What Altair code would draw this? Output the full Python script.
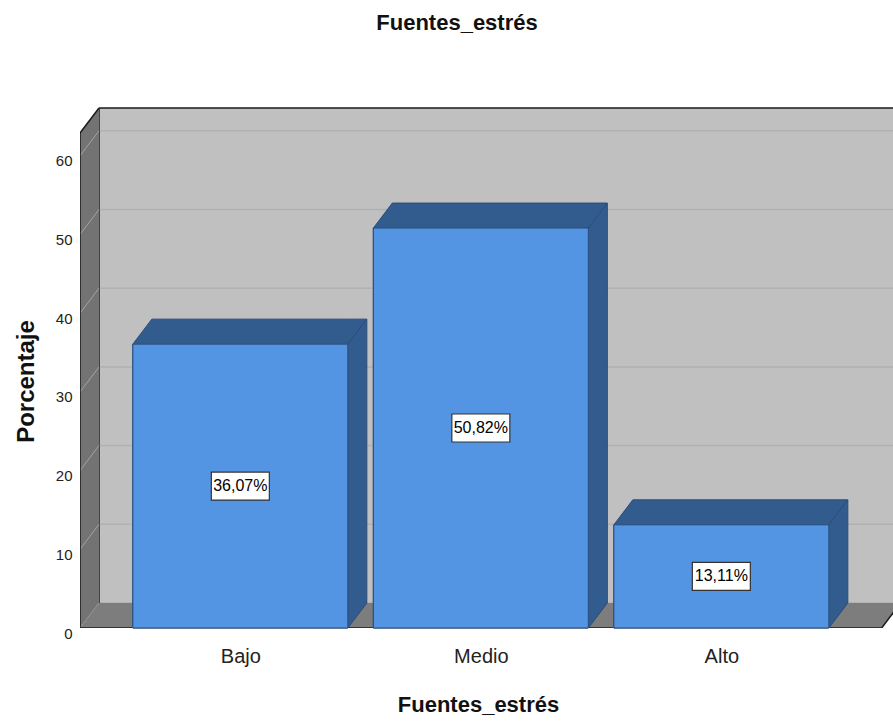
import json
import altair as alt
import pandas as pd

# ---- data -------------------------------------------------------------
categories = ["Bajo", "Medio", "Alto"]
percentages = [36.07, 50.82, 13.11]
y_ticks = [0, 10, 20, 30, 40, 50, 60]
chart_title = "Fuentes_estrés"
y_title = "Porcentaje"

# ---- geometry of the 3-D box (x in category slots, y in percent) ------
PLOT_W, PLOT_H = 813, 528
PX_PER_SLOT = 240.5
PX_PER_PCT = 7.87
X_LEFT = 1 / 3            # front-left corner of the side wall
X_RIGHT = 11 / 3          # front-right corner of the floor
DEPTH_X = 19 / PX_PER_SLOT
DEPTH_Y = 25 / PX_PER_PCT
WALL_TOP = 62.9
HALF_BAR = 0.447
X_DOMAIN = [X_LEFT, X_LEFT + PLOT_W / PX_PER_SLOT]
Y_DOMAIN = [0, PLOT_H / PX_PER_PCT]
X_END = X_DOMAIN[1] + 0.3

FONT = "Liberation Sans"
BAR_FRONT = "#5394E3"
BAR_DARK = "#335C8E"
BAR_EDGE = "#2B4C78"
WALL_BACK = "#C0C0C0"
WALL_SIDE = "#737373"
FLOOR = "#7D7D7D"

XS = alt.Scale(domain=X_DOMAIN, nice=False, zero=False)
YS = alt.Scale(domain=Y_DOMAIN, nice=False, zero=False)

x_label_expr = f"{json.dumps(categories)}[datum.value - 1]"
X_AXIS = alt.Axis(
    values=[1, 2, 3], labelExpr=x_label_expr, title="Fuentes_estrés",
    ticks=False, domain=False, grid=False, labelPadding=34,
    labelBaseline="alphabetic", labelFont=FONT, labelFontSize=20,
    labelColor="#222222", titleFont=FONT, titleFontSize=22,
    titleFontWeight="bold", titleColor="#111111", titleX=398, titleY=83,
    titleBaseline="alphabetic", titleAlign="center", titleAnchor="middle")
Y_AXIS = alt.Axis(
    values=y_ticks, ticks=False, domain=False, grid=False, labelPadding=8,
    labelFont=FONT, labelFontSize=15, labelColor="#222222",
    labelBaseline="middle", labelOffset=5, title=y_title, titleFont=FONT,
    titleFontSize=24, titleFontWeight="bold", titleColor="#111111",
    titleAngle=270, titleX=-47, titleY=281, titleAlign="center",
    titleBaseline="alphabetic", titleAnchor="middle")


def X(field):
    return alt.X(field, type="quantitative", scale=XS, axis=X_AXIS)


def Y(field):
    return alt.Y(field, type="quantitative", scale=YS, axis=Y_AXIS, stack=None)


def X2(field):
    return alt.X2(field)


def Y2(field):
    return alt.Y2(field)


def segments(rows):
    return pd.DataFrame(rows, columns=["x", "y", "x2", "y2"])


def polygon_area(frame, **mark):
    # a filled shape bounded by straight edges, given as lower/upper
    # outlines sampled at its corner x positions
    return alt.Chart(frame).mark_area(orient="vertical", interpolate="linear", **mark).encode(
        x=X("x"), y=Y("lo"), y2=Y2("hi"))


# ---- back wall ----------------------------------------------------------
back_wall = alt.Chart(pd.DataFrame({
    "x": [X_LEFT + DEPTH_X], "x2": [X_END],
    "y": [DEPTH_Y], "y2": [WALL_TOP + DEPTH_Y],
})).mark_rect(fill=WALL_BACK, clip=True).encode(
    x=X("x"), x2=X2("x2"), y=Y("y"), y2=Y2("y2"))

back_grid = alt.Chart(segments(
    [[X_LEFT + DEPTH_X, t + DEPTH_Y, X_END, t + DEPTH_Y] for t in y_ticks]
)).mark_rule(color="#B1B1B1", strokeWidth=1.5, clip=True).encode(
    x=X("x"), x2=X2("x2"), y=Y("y"), y2=Y2("y2"))

back_edges = alt.Chart(segments([
    [X_LEFT + DEPTH_X, WALL_TOP + DEPTH_Y, X_END, WALL_TOP + DEPTH_Y],
    [X_LEFT + DEPTH_X, DEPTH_Y, X_LEFT + DEPTH_X, WALL_TOP + DEPTH_Y],
])).mark_rule(color="#1A1A1A", strokeWidth=1.5, clip=True).encode(
    x=X("x"), x2=X2("x2"), y=Y("y"), y2=Y2("y2"))

# ---- left side wall -------------------------------------------------------
side_wall = polygon_area(pd.DataFrame({
    "x": [X_LEFT, X_LEFT + DEPTH_X],
    "lo": [0, DEPTH_Y],
    "hi": [WALL_TOP, WALL_TOP + DEPTH_Y],
}), fill=WALL_SIDE, clip=True)

side_grid = alt.Chart(segments(
    [[X_LEFT, t, X_LEFT + DEPTH_X, t + DEPTH_Y] for t in y_ticks]
)).mark_rule(color="#A3A3A3", strokeWidth=1, clip=True).encode(
    x=X("x"), x2=X2("x2"), y=Y("y"), y2=Y2("y2"))

side_edges = alt.Chart(segments([
    [X_LEFT, 0, X_LEFT, WALL_TOP],
    [X_LEFT, WALL_TOP, X_LEFT + DEPTH_X, WALL_TOP + DEPTH_Y],
])).mark_rule(color="#1A1A1A", strokeWidth=1.5, clip=True).encode(
    x=X("x"), x2=X2("x2"), y=Y("y"), y2=Y2("y2"))

# ---- floor ----------------------------------------------------------------
floor = polygon_area(pd.DataFrame({
    "x": [X_LEFT, X_LEFT + DEPTH_X, X_RIGHT, X_RIGHT + DEPTH_X],
    "lo": [0, 0, 0, DEPTH_Y],
    "hi": [0, DEPTH_Y, DEPTH_Y, DEPTH_Y],
}), fill=FLOOR, clip=True)

floor_edges = alt.Chart(segments([
    [X_LEFT, 0, X_RIGHT, 0],
    [X_RIGHT, 0, X_RIGHT + DEPTH_X, DEPTH_Y],
])).mark_rule(color="#1A1A1A", strokeWidth=1.5, clip=True).encode(
    x=X("x"), x2=X2("x2"), y=Y("y"), y2=Y2("y2"))

# ---- bars -----------------------------------------------------------------
bars = pd.DataFrame({
    "cat": categories,
    "pct": percentages,
    "c": [i + 1 for i in range(len(categories))],
})
bars["x0"] = bars["c"] - HALF_BAR
bars["x1"] = bars["c"] + HALF_BAR
bars["mid"] = bars["pct"] / 2
bars["zero"] = 0.0
bars["label"] = [f"{v:.2f}".replace(".", ",") + "%" for v in percentages]

# top + right faces of each bar as one hull, later covered by the front face
bar_depth = []
for _, r in bars.iterrows():
    hull = pd.DataFrame({
        "x": [r["x0"], r["x0"] + DEPTH_X, r["x1"], r["x1"] + DEPTH_X],
        "lo": [0, 0, 0, DEPTH_Y],
        "hi": [r["pct"], r["pct"] + DEPTH_Y, r["pct"] + DEPTH_Y, r["pct"] + DEPTH_Y],
    })
    bar_depth.append(polygon_area(hull, fill=BAR_DARK, stroke=BAR_EDGE, strokeWidth=1))

bar_front = alt.Chart(bars).mark_rect(
    fill=BAR_FRONT, stroke=BAR_EDGE, strokeWidth=1
).encode(x=X("x0"), x2=X2("x1"), y=Y("pct"), y2=Y2("zero"))

bar_corner = alt.Chart(pd.DataFrame({
    "x": bars["x1"], "y": bars["pct"],
    "x2": bars["x1"] + DEPTH_X, "y2": bars["pct"] + DEPTH_Y,
})).mark_rule(color=BAR_EDGE, strokeWidth=1).encode(
    x=X("x"), x2=X2("x2"), y=Y("y"), y2=Y2("y2"))

label_box = alt.Chart(bars).mark_rect(
    width=58, height=28, fill="white", stroke="#333333", strokeWidth=1.2
).encode(x=X("c"), y=Y("mid"))

label_text = alt.Chart(bars).mark_text(
    font=FONT, fontSize=16, color="black", baseline="middle", align="center"
).encode(x=X("c"), y=Y("mid"), text="label:N")

title_mark = alt.Chart(pd.DataFrame({"t": [chart_title]})).mark_text(
    font=FONT, fontSize=22, fontWeight="bold", color="#111111",
    baseline="alphabetic", align="center"
).encode(x=alt.value(377), y=alt.value(-70), text="t:N")

chart = alt.layer(
    back_wall, back_grid, back_edges, side_wall, side_grid, side_edges,
    floor, floor_edges, *bar_depth, bar_front, bar_corner, label_box,
    label_text, title_mark,
).properties(
    width=PLOT_W, height=PLOT_H, autosize="none",
    padding={"left": 80, "top": 100, "right": 0, "bottom": 94},
    background="white",
).configure_view(stroke=None)

chart.save("out.html", embed_options={"renderer": "svg", "actions": False})
